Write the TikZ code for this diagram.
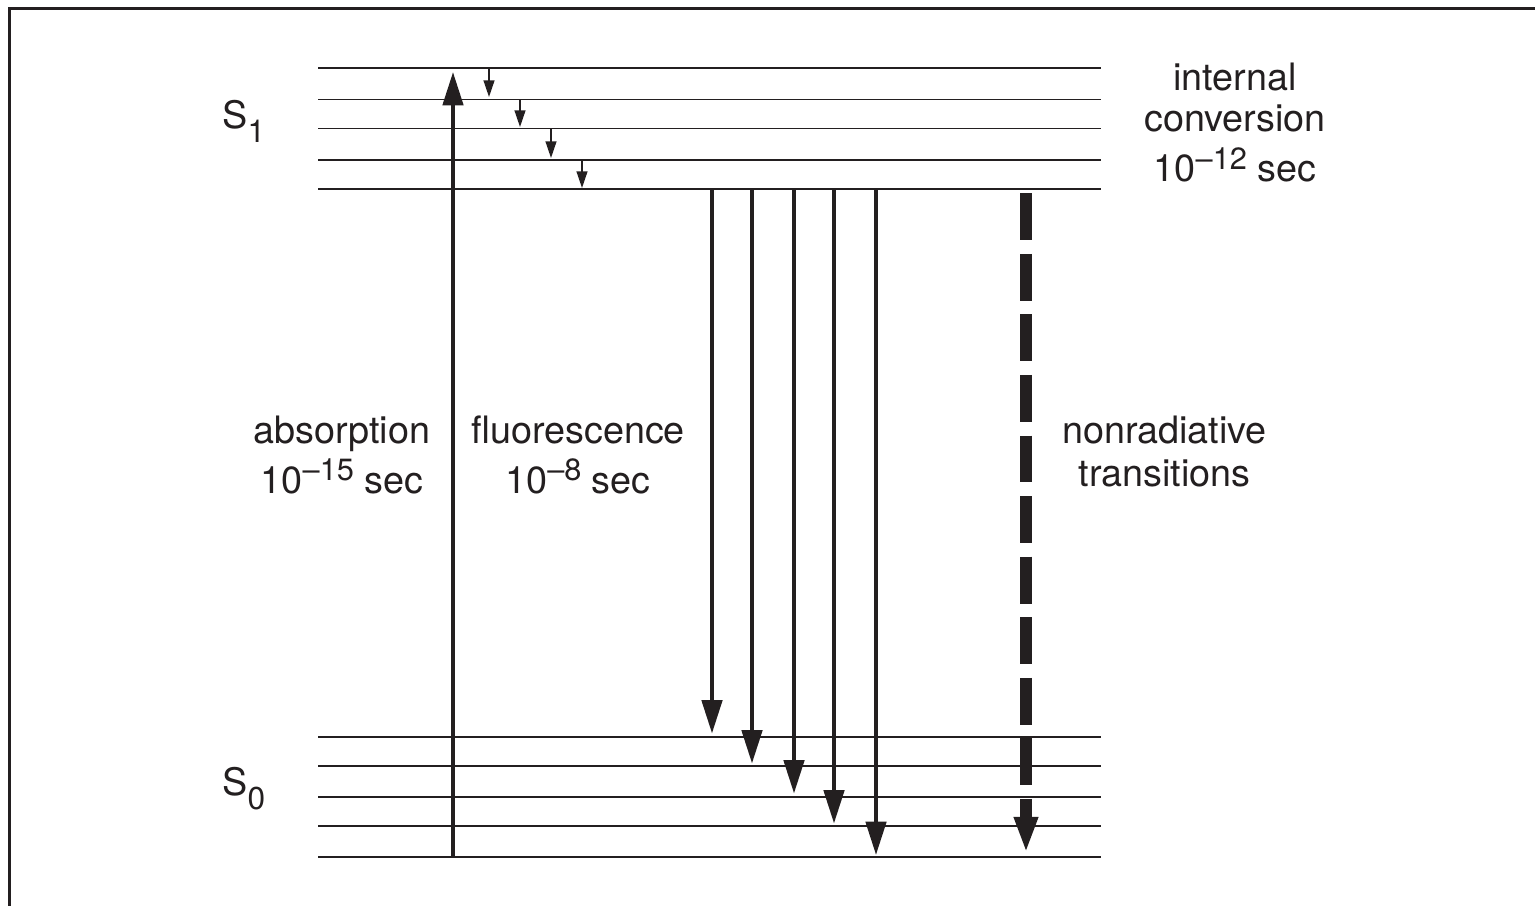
\documentclass[tikz,border=0pt]{standalone}
\usepackage{fontspec}
\setmainfont{TeX Gyre Heros}
\usetikzlibrary{arrows.meta}
\definecolor{ink}{HTML}{231F20}
\newcommand{\mysup}[1]{\raisebox{0.33em}{\fontsize{17.5pt}{18pt}\selectfont #1}}
\newcommand{\mysub}[1]{\raisebox{-0.38em}{\fontsize{18pt}{18pt}\selectfont #1}}
\begin{document}
\begin{tikzpicture}[x=0.02cm,y=-0.02cm,
  font=\fontsize{21.5pt}{26pt}\selectfont,
  level/.style={draw=ink, line width=1.1pt},
  frame/.style={draw=ink, line width=1.7pt},
  bigarrow/.style={draw=ink, line width=2.3pt, -{Triangle[length=19pt,width=11.5pt]}},
  smallarrow/.style={draw=ink, line width=0.9pt, -{Triangle[length=9.5pt,width=6.2pt]}},
  nonrad/.style={draw=ink, line width=7.2pt, dash pattern=on 26.65pt off 7.82pt, -{Triangle[length=20.5pt,width=12.5pt]}},
  lbl/.style={anchor=base, inner sep=0pt, text=ink}]
\useasboundingbox (0,0) rectangle (1535,906);
\draw[frame] (9.5,8.5) rectangle (1570,940);
% energy levels
\foreach \yy in {68.3,99.5,128.5,160,189}{\draw[level] (318,\yy) -- (1101,\yy);}
\foreach \yy in {737.3,766,797.3,826,857.3}{\draw[level] (318,\yy) -- (1101,\yy);}
% absorption
\coordinate (abs0) at (453,857.3);
\coordinate (abs1) at (453,72);
\draw[bigarrow] (abs0) -- (abs1);
% internal conversion
\coordinate (ic1a) at (489,68.3);  \coordinate (ic1b) at (489,97);
\coordinate (ic2a) at (520,99.5);  \coordinate (ic2b) at (520,127);
\coordinate (ic3a) at (551,128.5); \coordinate (ic3b) at (551,158);
\coordinate (ic4a) at (582,160);   \coordinate (ic4b) at (582,188);
\draw[smallarrow] (ic1a) -- (ic1b);
\draw[smallarrow] (ic2a) -- (ic2b);
\draw[smallarrow] (ic3a) -- (ic3b);
\draw[smallarrow] (ic4a) -- (ic4b);
% fluorescence
\coordinate (f1a) at (712,189); \coordinate (f1b) at (712,733.5);
\coordinate (f2a) at (752,189); \coordinate (f2b) at (752,763.5);
\coordinate (f3a) at (794,189); \coordinate (f3b) at (794,793.5);
\coordinate (f4a) at (834,189); \coordinate (f4b) at (834,823.5);
\coordinate (f5a) at (876,189); \coordinate (f5b) at (876,855);
\draw[bigarrow] (f1a) -- (f1b);
\draw[bigarrow] (f2a) -- (f2b);
\draw[bigarrow] (f3a) -- (f3b);
\draw[bigarrow] (f4a) -- (f4b);
\draw[bigarrow] (f5a) -- (f5b);
% nonradiative
\coordinate (nr0) at (1026,193.3);
\coordinate (nr1) at (1026,853);
\draw[nonrad] (nr0) -- (nr1);
% labels
\node[lbl, anchor=base west] (s1) at (222,128) {S\mysub{1}};
\node[lbl, anchor=base west] (s0) at (222,795) {S\mysub{0}};
\node[lbl] (ic-l1) at (1235,90) {internal};
\node[lbl] (ic-l2) at (1235,131.7) {conversion};
\node[lbl] (ic-l3) at (1235,181.7) {10\mysup{–12} sec};
\node[lbl] (ab-l1) at (342,443) {absorption};
\node[lbl] (ab-l2) at (342,493) {10\mysup{–15} sec};
\node[lbl] (fl-l1) at (578,443) {fluorescence};
\node[lbl] (fl-l2) at (578,493) {10\mysup{–8} sec};
\node[lbl] (nr-l1) at (1164.5,443.3) {nonradiative};
\node[lbl] (nr-l2) at (1164.5,486) {transitions};
\end{tikzpicture}
\end{document}
